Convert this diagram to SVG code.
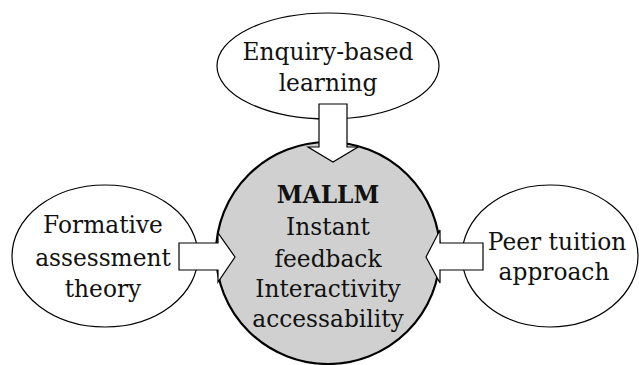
<svg xmlns="http://www.w3.org/2000/svg" width="639" height="365" viewBox="0 0 639 365">
<style>
.el{fill:#fff;stroke:#000;stroke-width:1.2}
.hub{fill:#d0d0d0;stroke:#000;stroke-width:2.2}
.arr{fill:#fff;stroke:#000;stroke-width:1.2;stroke-linejoin:miter}
text{font-family:"DejaVu Serif","Liberation Serif",serif;font-size:23.3px;fill:#111;text-anchor:middle}
.b{font-weight:bold}
</style>
<rect width="639" height="365" fill="#fff"/>
<g id="node-top"><ellipse class="el" cx="328" cy="66" rx="111" ry="53"/>
<text x="328" y="60">Enquiry-based</text><text x="328" y="91">learning</text></g>
<g id="node-left"><ellipse class="el" cx="105" cy="256" rx="93" ry="71"/>
<text x="103" y="233">Formative</text><text x="103" y="266">assessment</text><text x="103" y="297">theory</text></g>
<g id="node-right"><ellipse class="el" cx="550" cy="256" rx="88" ry="71"/>
<text x="557" y="250">Peer tuition</text><text x="554" y="280">approach</text></g>
<g id="node-center"><ellipse class="hub" cx="328" cy="253" rx="112" ry="111"/></g>
<g id="connectors">
<polygon class="arr" points="319,104 347,104 347,147 358,147 333,162 308,147 319,147"/>
<polygon class="arr" points="179,243 218,243 218,233 235,257 218,282 218,270 179,270"/>
<polygon class="arr" points="483,243 440,243 440,230 426,257 440,283 440,270 483,270"/>
</g>
<g id="center-text">
<text class="b" x="328" y="203">MALLM</text><text x="328" y="235">Instant</text><text x="328" y="267">feedback</text><text x="328" y="297">Interactivity</text><text x="328" y="327">accessability</text>
</g>
</svg>
